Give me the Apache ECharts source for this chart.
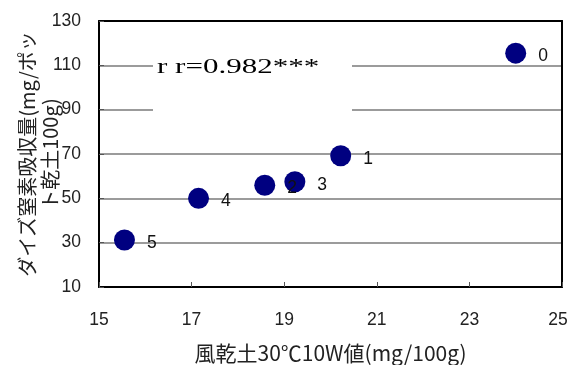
<!DOCTYPE html>
<html><head><meta charset="utf-8">
<script src="https://cdn.jsdelivr.net/npm/echarts@6/dist/echarts.min.js"></script>
<style>html,body{margin:0;padding:0;background:#fff}#c{width:570px;height:365px}</style>
</head><body><div id="c"></div>
<script>
const xValues = [24.0, 20.22, 18.58, 19.23, 17.15, 15.55];
const yValues = [115.5, 69.2, 55.9, 57.5, 50.0, 31.2];
const pointLabels = ['0', '1', '2', '3', '4', '5'];
const xTitle = '風乾土30℃10W値(mg/100g)';
const yTitle = 'ダイズ窒素吸収量(mg/ポッ\nト乾土100g)';
const annotation = 'r r=0.982***';

const font = '"Noto Sans CJK JP", "DejaVu Sans", sans-serif';
const numFont = '"Liberation Sans", Arial, sans-serif';
const chart = echarts.init(document.getElementById('c'));
chart.setOption({
  animation: false,
  backgroundColor: '#fff',
  grid: { left: 99, right: 8, top: 21, bottom: 78, outerBoundsMode: 'none', containLabel: false },
  xAxis: [{
    type: 'value', min: 15, max: 25, interval: 2,
    name: xTitle, nameLocation: 'middle', nameGap: 56, nameMoveOverlap: false,
    nameTextStyle: { fontFamily: font, fontSize: 21, color: '#222' },
    axisLine: { lineStyle: { color: '#000', width: 2 } },
    axisTick: { inside: true, length: 5, lineStyle: { color: '#555' } },
    axisLabel: { fontFamily: numFont, fontSize: 17.5, color: '#222', margin: 24,
      formatter: v => v === 25 ? '{e|' + v + '}' : String(v),
      rich: { e: { fontFamily: numFont, fontSize: 17.5, color: '#222', padding: [0, 8, 0, 0] } } },
    splitLine: { show: false }
  }, {
    type: 'value', position: 'top', min: 15, max: 25, interval: 2,
    axisLine: { show: true, onZero: false, lineStyle: { color: '#000', width: 2 } },
    axisTick: { show: false }, axisLabel: { show: false }, splitLine: { show: false }
  }],
  yAxis: [{
    type: 'value', min: 10, max: 130, interval: 20,
    name: yTitle, nameLocation: 'middle', nameGap: 37, nameRotate: 90, nameMoveOverlap: false,
    nameTextStyle: { fontFamily: font, fontSize: 20, color: '#222', lineHeight: 23, align: 'center' },
    axisLine: { lineStyle: { color: '#000', width: 2 } },
    axisTick: { inside: true, length: 5, lineStyle: { color: '#555' } },
    axisLabel: { fontFamily: numFont, fontSize: 17.5, color: '#222', margin: 18 },
    splitLine: { show: true, showMaxLine: false, lineStyle: { color: '#7a7a7a', width: 1.5 } }
  }, {
    type: 'value', position: 'right', min: 10, max: 130, interval: 20,
    axisLine: { show: true, onZero: false, lineStyle: { color: '#000', width: 2 } },
    axisTick: { show: false }, axisLabel: { show: false }, splitLine: { show: false }
  }],
  graphic: [
    { type: 'rect', z: 100, shape: { x: 153, y: 50, width: 199, height: 68 }, style: { fill: '#fff' } },
    { type: 'text', z: 101, x: 157, y: 68, scaleX: 1.55,
      style: { text: annotation, x: 0, y: 0, fontFamily: '"Liberation Serif", serif', fontSize: 20, fill: '#000', textAlign: 'left', textVerticalAlign: 'middle' } }
  ],
  series: [{
    type: 'scatter',
    data: xValues.map((x, i) => [x, yValues[i], pointLabels[i]]),
    symbol: 'circle', symbolSize: 21,
    itemStyle: { color: '#000080', opacity: 1 },
    label: { show: true, position: 'right', distance: 12, formatter: p => p.value[2],
      fontFamily: numFont, fontSize: 17.5, color: '#111', offset: [0, 3] },
    z: 5
  }]
});
</script></body></html>
